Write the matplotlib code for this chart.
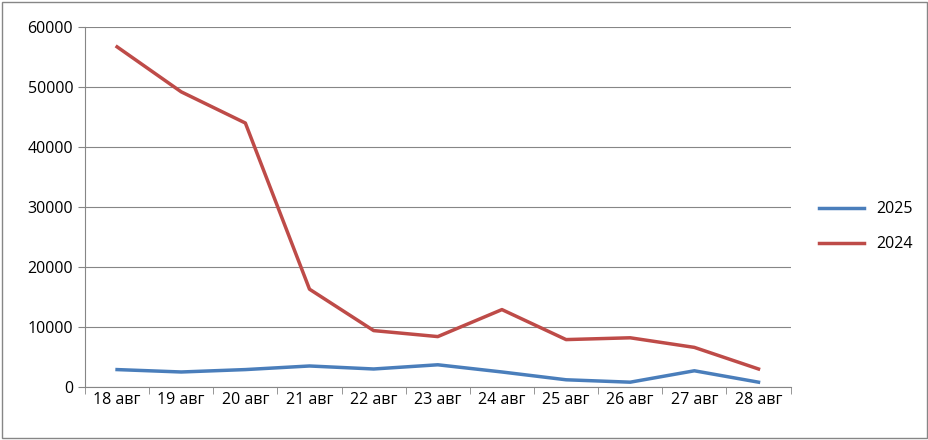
import matplotlib
matplotlib.use("Agg")
import matplotlib.pyplot as plt
from matplotlib.patches import Rectangle

plt.rcParams['font.family'] = ['Open Sans', 'DejaVu Sans']

days = ["18 авг", "19 авг", "20 авг", "21 авг", "22 авг", "23 авг",
        "24 авг", "25 авг", "26 авг", "27 авг", "28 авг"]
y2025 = [2900, 2500, 2900, 3500, 3000, 3700, 2500, 1200, 800, 2700, 800]
y2024 = [56700, 49200, 44000, 16300, 9400, 8400, 12900, 7900, 8200, 6600, 3000]

fig = plt.figure(figsize=(9.29, 4.4), dpi=100)
fig.patches.append(Rectangle((0.002, 0.004), 0.996, 0.992, transform=fig.transFigure,
                             fill=False, edgecolor="#868686", linewidth=1))
ax = fig.add_axes([0.0915, 0.1205, 0.7595, 0.818])

x = range(len(days))
ax.plot(x, y2025, color="#4A7EBB", linewidth=2.5, label="2025")
ax.plot(x, y2024, color="#BE4B48", linewidth=2.5, label="2024")

ax.set_xlim(-0.5, len(days) - 0.5)
ax.set_ylim(0, 60000)
ax.set_yticks(range(0, 60001, 10000))
ax.set_xticks(list(x))
ax.set_xticklabels(days)
ax.grid(axis="y", color="#868686", linewidth=0.8)
ax.set_axisbelow(True)
for s in ["top", "right"]:
    ax.spines[s].set_visible(False)
ax.spines["left"].set_color("#868686")
ax.spines["bottom"].set_color("#868686")
ax.tick_params(axis="y", length=5, color="#868686", labelsize=11.5)
ax.tick_params(axis="x", length=5, color="#868686", labelsize=11.5)
ax.set_xticks([i - 0.5 for i in range(len(days) + 1)], minor=True)
ax.tick_params(axis="x", which="major", length=0)
ax.tick_params(axis="x", which="minor", length=5, color="#868686")

ax.legend(loc="center left", bbox_to_anchor=(1.02, 0.445), frameon=False,
          fontsize=11.5, handlelength=2.8, labelspacing=1.2)

fig.savefig("out.png", dpi=100)
